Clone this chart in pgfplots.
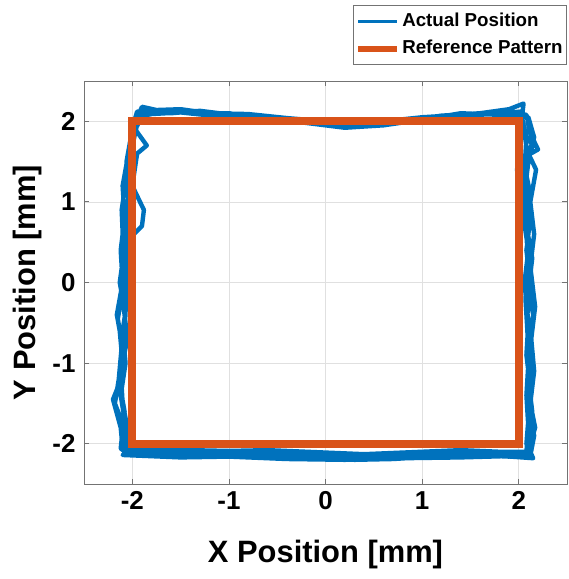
\documentclass[border=0pt]{standalone}
\usepackage{fontspec}
\setmainfont{Liberation Sans}
\usepackage{pgfplots}
\pgfplotsset{compat=1.18}
\usepackage{xcolor}
\definecolor{mblue}{HTML}{0072BD}
\definecolor{morange}{HTML}{D95319}

\begin{document}
\begin{tikzpicture}
\begin{axis}[
    scale only axis,
    width=483bp, height=403bp,
    xmin=-2.5, xmax=2.5,
    ymin=-2.5, ymax=2.5,
    xtick={-2,-1,0,1,2},
    ytick={-2,-1,0,1,2},
    /pgf/number format/assume math mode=true,
    tick label style={font=\fontsize{26}{30}\selectfont\bfseries},
    xticklabel style={yshift=-4bp},
    yticklabel style={xshift=-5bp},
    label style={font=\fontsize{31}{36}\selectfont\bfseries},
    xlabel={X Position [mm]},
    ylabel={Y Position [mm]},
    xlabel style={at={(axis description cs:0.5,0)}, yshift=-71bp, anchor=center},
    ylabel style={at={(axis description cs:-0.116,0.5)}, anchor=center},
    axis line style={black!55, line width=0.8bp},
    tick style={black!55, line width=0.8bp},
    major tick length=5bp,
    tick align=inside,
    grid=major,
    grid style={black!12, line width=0.6bp},
    legend cell align=left,
    legend style={at={(1,1)}, anchor=south east, yshift=16bp,
        draw=black!55, line width=0.8bp,
        font=\fontsize{18.8}{22}\selectfont\bfseries,
        inner xsep=2bp, inner ysep=7bp,
        nodes={inner xsep=2bp, inner ysep=0bp, text height=14bp, text depth=4bp},
        row sep=9bp},
    legend image code/.code={\draw[#1] (0bp,0bp) -- (39bp,0bp);},
]
\addlegendimage{mblue, line width=3bp}
\addlegendimage{morange, line width=6bp}
\addplot[forget plot, mblue, line width=4.4bp, line join=round] coordinates {
(-2.06,-2.10) (-2.08,-1.7) (-2.12,-1.4) (-2.07,-1.0) (-2.10,-0.6) (-2.05,-0.2) (-2.08,0.2) (-2.06,0.6) (-2.04,1.0) (-2.05,1.4) (-1.98,1.8) (-1.92,2.12) (-1.7,2.10) (-1.4,2.12) (-1.0,2.08) (-0.6,2.06) (-0.2,2.02) (0.2,1.98) (0.6,2.0) (1.0,2.05) (1.4,2.08) (1.8,2.1) (2.02,2.12) (2.08,1.8) (2.06,1.4) (2.10,1.0) (2.08,0.6) (2.1,0.2) (2.07,-0.2) (2.09,-0.6) (2.1,-1.0) (2.08,-1.4) (2.1,-1.8) (2.08,-2.1) (1.8,-2.1) (1.4,-2.08) (1.0,-2.1) (0.6,-2.12) (0.2,-2.14) (-0.2,-2.12) (-0.6,-2.1) (-1.0,-2.12) (-1.4,-2.1) (-1.8,-2.08) (-2.06,-2.08)
(-2.10,-1.75) (-2.18,-1.5) (-2.14,-1.2) (-2.09,-0.9) (-2.15,-0.45) (-2.10,-0.1) (-2.08,0.3) (-2.1,0.7) (-2.03,1.1) (-2.06,1.5) (-2.0,1.9) (-1.9,2.18) (-1.75,2.14) (-1.5,2.15) (-1.2,2.10) (-0.8,2.09) (-0.4,2.04) (0,1.96) (0.4,1.94) (0.8,2.0) (1.2,2.07) (1.6,2.1) (1.9,2.15) (2.05,2.22) (2.02,1.9) (2.15,1.7) (2.05,1.5) (2.12,1.1) (2.08,0.7) (2.14,0.3) (2.1,-0.1) (2.15,-0.4) (2.1,-0.8) (2.14,-1.2) (2.1,-1.6) (2.16,-1.9) (2.12,-2.15) (1.8,-2.12) (1.4,-2.1) (1.0,-2.14) (0.6,-2.16) (0.2,-2.18) (-0.2,-2.15) (-0.6,-2.13) (-1.0,-2.1) (-1.4,-2.12) (-1.8,-2.1) (-2.08,-2.1)
(-2.05,-1.8) (-2.1,-1.5) (-2.12,-1.1) (-2.05,-0.7) (-2.09,-0.3) (-2.04,0.1) (-2.07,0.5) (-1.9,0.7) (-1.88,0.9) (-2.0,1.2) (-1.95,1.6) (-1.85,1.7) (-1.97,1.9) (-1.85,2.16) (-1.6,2.1) (-1.3,2.13) (-0.9,2.07) (-0.5,2.05) (-0.1,2.0) (0.3,1.95) (0.7,1.97) (1.1,2.04) (1.5,2.06) (1.85,2.12) (2.08,2.08) (2.12,1.85) (2.2,1.65) (2.05,1.55) (1.98,1.4) (2.06,1.2) (2.05,0.8) (2.1,0.4) (2.06,0.0) (2.1,-0.5) (2.08,-0.9) (2.12,-1.3) (2.1,-1.7) (2.08,-2.0) (2.15,-2.18) (1.8,-2.15) (1.4,-2.12) (1.0,-2.12) (0.6,-2.14) (0.2,-2.12) (-0.2,-2.1) (-0.6,-2.08) (-1.0,-2.09) (-1.4,-2.08) (-1.8,-2.06) (-2.1,-2.06)
(-2.12,-1.8) (-2.2,-1.45) (-2.15,-1.3) (-2.1,-1.0) (-2.13,-0.6) (-2.16,-0.4) (-2.1,0.0) (-2.12,0.4) (-2.08,0.8) (-2.1,1.2) (-2.04,1.6) (-1.98,2.0) (-1.95,2.12) (-1.65,2.13) (-1.35,2.1) (-1.0,2.1) (-0.6,2.03) (-0.2,1.98) (0.2,1.92) (0.6,1.95) (1.0,2.02) (1.4,2.1) (1.8,2.08) (2.1,2.05) (2.16,1.8) (2.1,1.6) (2.18,1.4) (2.12,1.0) (2.16,0.6) (2.12,0.2) (2.17,-0.3) (2.13,-0.7) (2.16,-1.1) (2.12,-1.5) (2.17,-1.8) (2.1,-2.1) (1.9,-2.16) (1.5,-2.14) (1.1,-2.16) (0.7,-2.19) (0.3,-2.2) (-0.1,-2.17) (-0.5,-2.14) (-0.9,-2.12) (-1.3,-2.14) (-1.7,-2.12) (-2.05,-2.12) (-2.12,-2.06)
(-2.08,-1.6) (-2.14,-1.2) (-2.11,-0.8) (-2.07,-0.4) (-2.13,0.0) (-2.09,0.35) (-2.11,0.9) (-2.06,1.3) (-2.03,1.7) (-1.96,2.05) (-1.8,2.09) (-1.5,2.11) (-1.1,2.06) (-0.7,2.04) (-0.3,2.0) (0.1,1.97) (0.5,1.97) (0.9,2.03) (1.3,2.05) (1.7,2.09) (2.0,2.1) (2.05,1.95) (2.1,1.5) (2.06,1.1) (2.12,0.8) (2.08,0.4) (2.12,0.0) (2.09,-0.4) (2.13,-0.8) (2.1,-1.2) (2.14,-1.6) (2.12,-2.05) (2.05,-2.12) (1.6,-2.11) (1.2,-2.13) (0.8,-2.15) (0.4,-2.16) (0.0,-2.15) (-0.4,-2.12) (-0.8,-2.11) (-1.2,-2.1) (-1.6,-2.1) (-2.03,-2.09)
(-2.1,-2.14) (-1.5,-2.17) (-1.0,-2.16) (-0.4,-2.19) (0.2,-2.2) (0.8,-2.18) (1.4,-2.17) (2.0,-2.15) (2.15,-2.12)
};
\addplot[forget plot, morange, line width=8bp, line join=miter] coordinates {
(-2,-2) (-2,2) (2,2) (2,-2) (-2,-2)
} -- cycle;
\legend{Actual Position, Reference Pattern}
\end{axis}
\pgfresetboundingbox
\path[use as bounding box] (-84bp,-95bp) rectangle (485bp,484bp);
\end{tikzpicture}
\end{document}
